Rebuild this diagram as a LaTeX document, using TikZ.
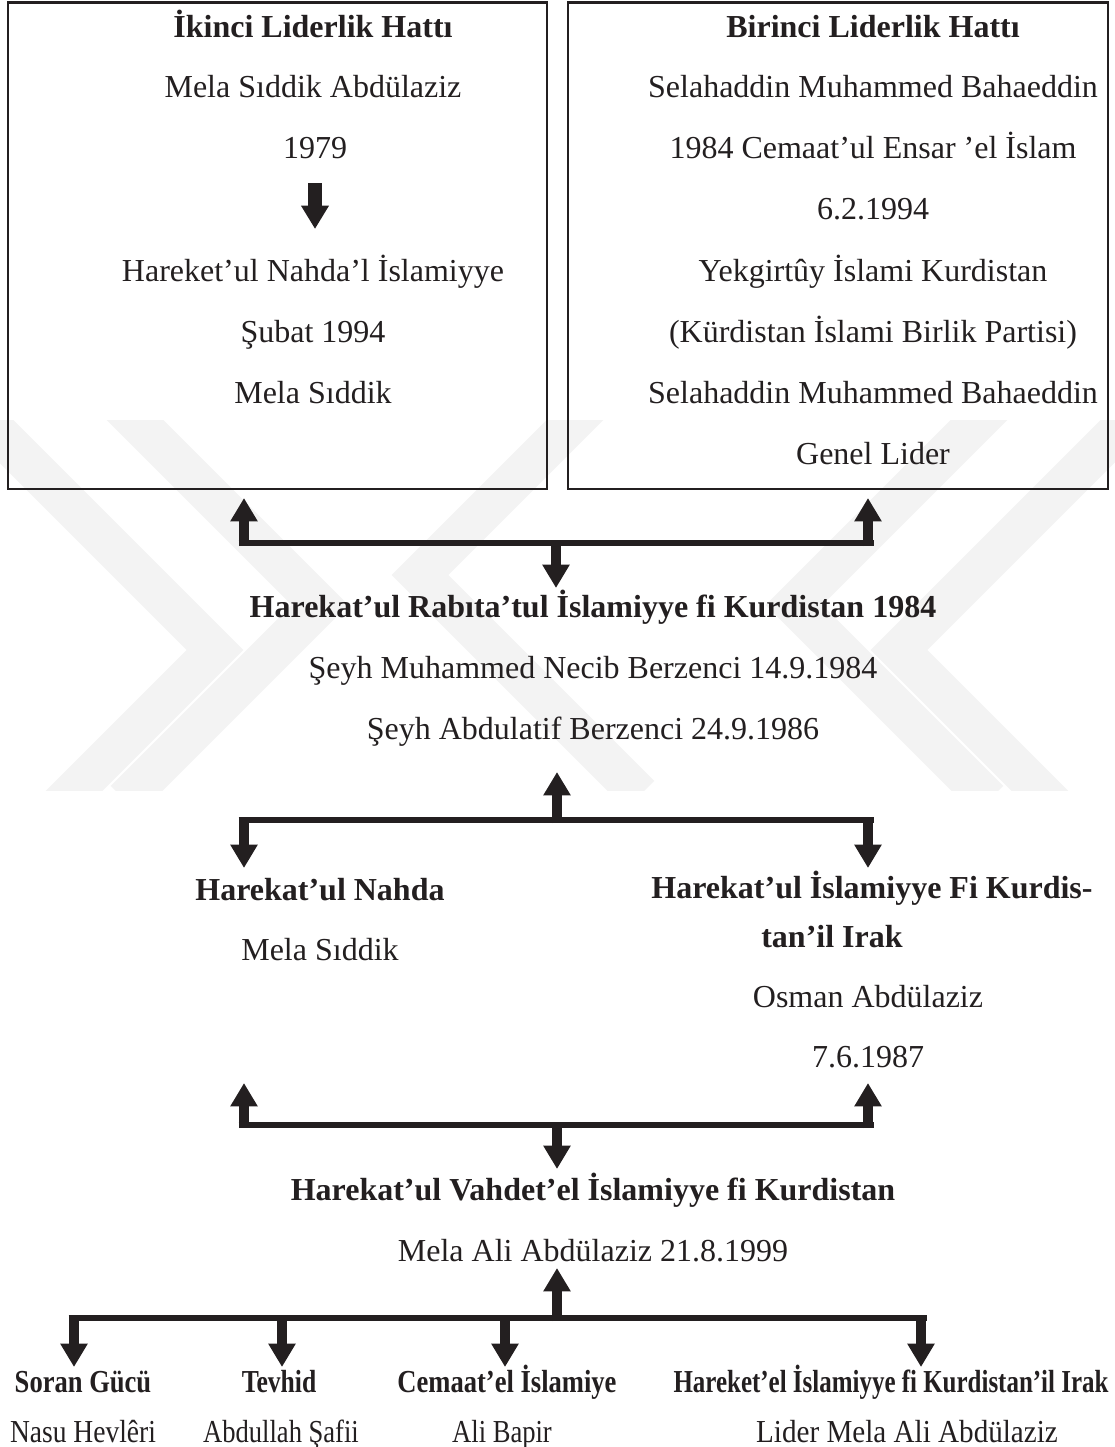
\documentclass[tikz,border=0pt]{standalone}
\usepackage{fontspec}
\setmainfont{Liberation Serif}
\usetikzlibrary{arrows.meta}
\definecolor{ink}{RGB}{35,31,32}
\definecolor{wmgray}{RGB}{243,243,243}
\newcommand{\sqz}[2]{\scalebox{#1}[1]{#2}}
\begin{document}
\begin{tikzpicture}[x=0.375pt,y=-0.375pt,
  txt/.style={anchor=base,inner sep=0pt,text=ink,font=\fontsize{12}{14}\selectfont},
  btxt/.style={txt,font=\fontsize{12}{14}\selectfont\bfseries},
  boxline/.style={draw=ink,line width=0.95pt},
  bus/.style={draw=ink,line width=2.25pt},
  arr/.style={draw=ink,line width=4.1pt,-{Triangle[width=9.75pt,length=8.8pt]}},
  bigarr/.style={draw=ink,line width=5pt,-{Triangle[width=9.9pt,length=8.8pt]}},
  wm/.style={draw=wmgray,line width=15pt,line join=miter}]
\useasboundingbox (0,0) rectangle (1115,1447);
\fill[white] (0,0) rectangle (1115,1447);
% watermark
\begin{scope}
\clip (0,420) rectangle (1115,790);
\draw[wm] (-40,395) -- (215,650) -- (55,810);
\draw[wm] (110,395) -- (320,605) -- (125,800);
\draw[wm] (1154,395) -- (899,650) -- (1059,810);
\draw[wm] (1004,395) -- (794,605) -- (989,800);
\draw[wm] (600,395) -- (420,575) -- (640,795);
\end{scope}
% boxes
\coordinate (LB1) at (8,2.5); \coordinate (LB2) at (547,489);
\coordinate (RB1) at (568,2.5); \coordinate (RB2) at (1108,489);
\draw[boxline] (LB1) rectangle (LB2);
\draw[boxline] (RB1) rectangle (RB2);
% left box
\node[btxt] (l0) at (313,37) {İkinci Liderlik Hattı};
\node[txt] (l1) at (313,97) {Mela Sıddik Abdülaziz};
\node[txt] (l2) at (315,158) {1979};
\node[txt] (l3) at (313,281) {Hareket’ul Nahda’l İslamiyye};
\node[txt] (l4) at (313,342) {Şubat 1994};
\node[txt] (l5) at (313,403) {Mela Sıddik};
\coordinate (la) at (315,183); \coordinate (lb) at (315,229);
\draw[bigarr] (la) -- (lb);
% right box
\node[btxt] (r0) at (873,37) {Birinci Liderlik Hattı};
\node[txt] (r1) at (873,97) {Selahaddin Muhammed Bahaeddin};
\node[txt] (r2) at (873,158) {1984 Cemaat’ul Ensar ’el İslam};
\node[txt] (r3) at (873,219) {6.2.1994};
\node[txt] (r4) at (873,281) {Yekgirtûy İslami Kurdistan};
\node[txt] (r5) at (873,342) {(Kürdistan İslami Birlik Partisi)};
\node[txt] (r6) at (873,403) {Selahaddin Muhammed Bahaeddin};
\node[txt] (r7) at (873,464) {Genel Lider};
% bus 1
\coordinate (b1l) at (238.5,543); \coordinate (b1r) at (873.5,543);
\draw[bus] (b1l) -- (b1r);
\coordinate (b1a) at (244,546); \coordinate (t1a) at (244,498);
\coordinate (b1b) at (868,546); \coordinate (t1b) at (868,498);
\coordinate (b1c) at (556,540); \coordinate (t1c) at (556,588);
\draw[arr] (b1a) -- (t1a);
\draw[arr] (b1b) -- (t1b);
\draw[arr] (b1c) -- (t1c);
% middle block
\node[btxt] (m0) at (593,617) {Harekat’ul Rabıta’tul İslamiyye fi Kurdistan 1984};
\node[txt] (m1) at (593,678) {Şeyh Muhammed Necib Berzenci 14.9.1984};
\node[txt] (m2) at (593,739) {Şeyh Abdulatif Berzenci 24.9.1986};
% bus 2
\coordinate (b2l) at (238.5,820); \coordinate (b2r) at (873.5,820);
\draw[bus] (b2l) -- (b2r);
\coordinate (b2c) at (557,823); \coordinate (t2c) at (557,772);
\coordinate (b2a) at (244,817); \coordinate (t2a) at (244,868);
\coordinate (b2b) at (868,817); \coordinate (t2b) at (868,868);
\draw[arr] (b2c) -- (t2c);
\draw[arr] (b2a) -- (t2a);
\draw[arr] (b2b) -- (t2b);
% second level
\node[btxt] (n0) at (320,900) {Harekat’ul Nahda};
\node[txt] (n1) at (320,960) {Mela Sıddik};
\node[btxt] (k0) at (872,898) {Harekat’ul İslamiyye Fi Kurdis-};
\node[btxt] (k1) at (832,947) {tan’il Irak};
\node[txt] (k2) at (868,1007) {Osman Abdülaziz};
\node[txt] (k3) at (868,1067) {7.6.1987};
% bus 3
\coordinate (b3l) at (238.5,1125); \coordinate (b3r) at (873.5,1125);
\draw[bus] (b3l) -- (b3r);
\coordinate (b3a) at (244,1128); \coordinate (t3a) at (244,1083);
\coordinate (b3b) at (868,1128); \coordinate (t3b) at (868,1083);
\coordinate (b3c) at (557,1122); \coordinate (t3c) at (557,1169);
\draw[arr] (b3a) -- (t3a);
\draw[arr] (b3b) -- (t3b);
\draw[arr] (b3c) -- (t3c);
% third level
\node[btxt] (v0) at (593,1200) {Harekat’ul Vahdet’el İslamiyye fi Kurdistan};
\node[txt] (v1) at (593,1261) {Mela Ali Abdülaziz 21.8.1999};
% bus 4
\coordinate (b4l) at (68.5,1318); \coordinate (b4r) at (926.5,1318);
\draw[bus] (b4l) -- (b4r);
\coordinate (b4c) at (557,1321); \coordinate (t4c) at (557,1268);
\draw[arr] (b4c) -- (t4c);
\coordinate (b4a) at (74,1315); \coordinate (t4a) at (74,1367);
\coordinate (b4b) at (282,1315); \coordinate (t4b) at (282,1367);
\coordinate (b4d) at (505,1315); \coordinate (t4d) at (505,1367);
\coordinate (b4e) at (921,1315); \coordinate (t4e) at (921,1367);
\draw[arr] (b4a) -- (t4a);
\draw[arr] (b4b) -- (t4b);
\draw[arr] (b4d) -- (t4d);
\draw[arr] (b4e) -- (t4e);
% bottom row
\node[btxt] (s0) at (83,1392) {\sqz{0.83}{Soran Gücü}};
\node[btxt] (s1) at (279,1392) {\sqz{0.80}{Tevhid}};
\node[btxt] (s2) at (507,1392) {\sqz{0.83}{Cemaat’el İslamiye}};
\node[btxt] (s3) at (891,1392) {\sqz{0.78}{Hareket’el İslamiyye fi Kurdistan’il Irak}};
\node[txt] (p0) at (83,1442) {\sqz{0.86}{Nasu Hevlêri}};
\node[txt] (p1) at (281,1442) {\sqz{0.83}{Abdullah Şafii}};
\node[txt] (p2) at (502,1442) {\sqz{0.83}{Ali Bapir}};
\node[txt] (p3) at (907,1442) {\sqz{0.91}{Lider Mela Ali Abdülaziz}};
\end{tikzpicture}
\end{document}
